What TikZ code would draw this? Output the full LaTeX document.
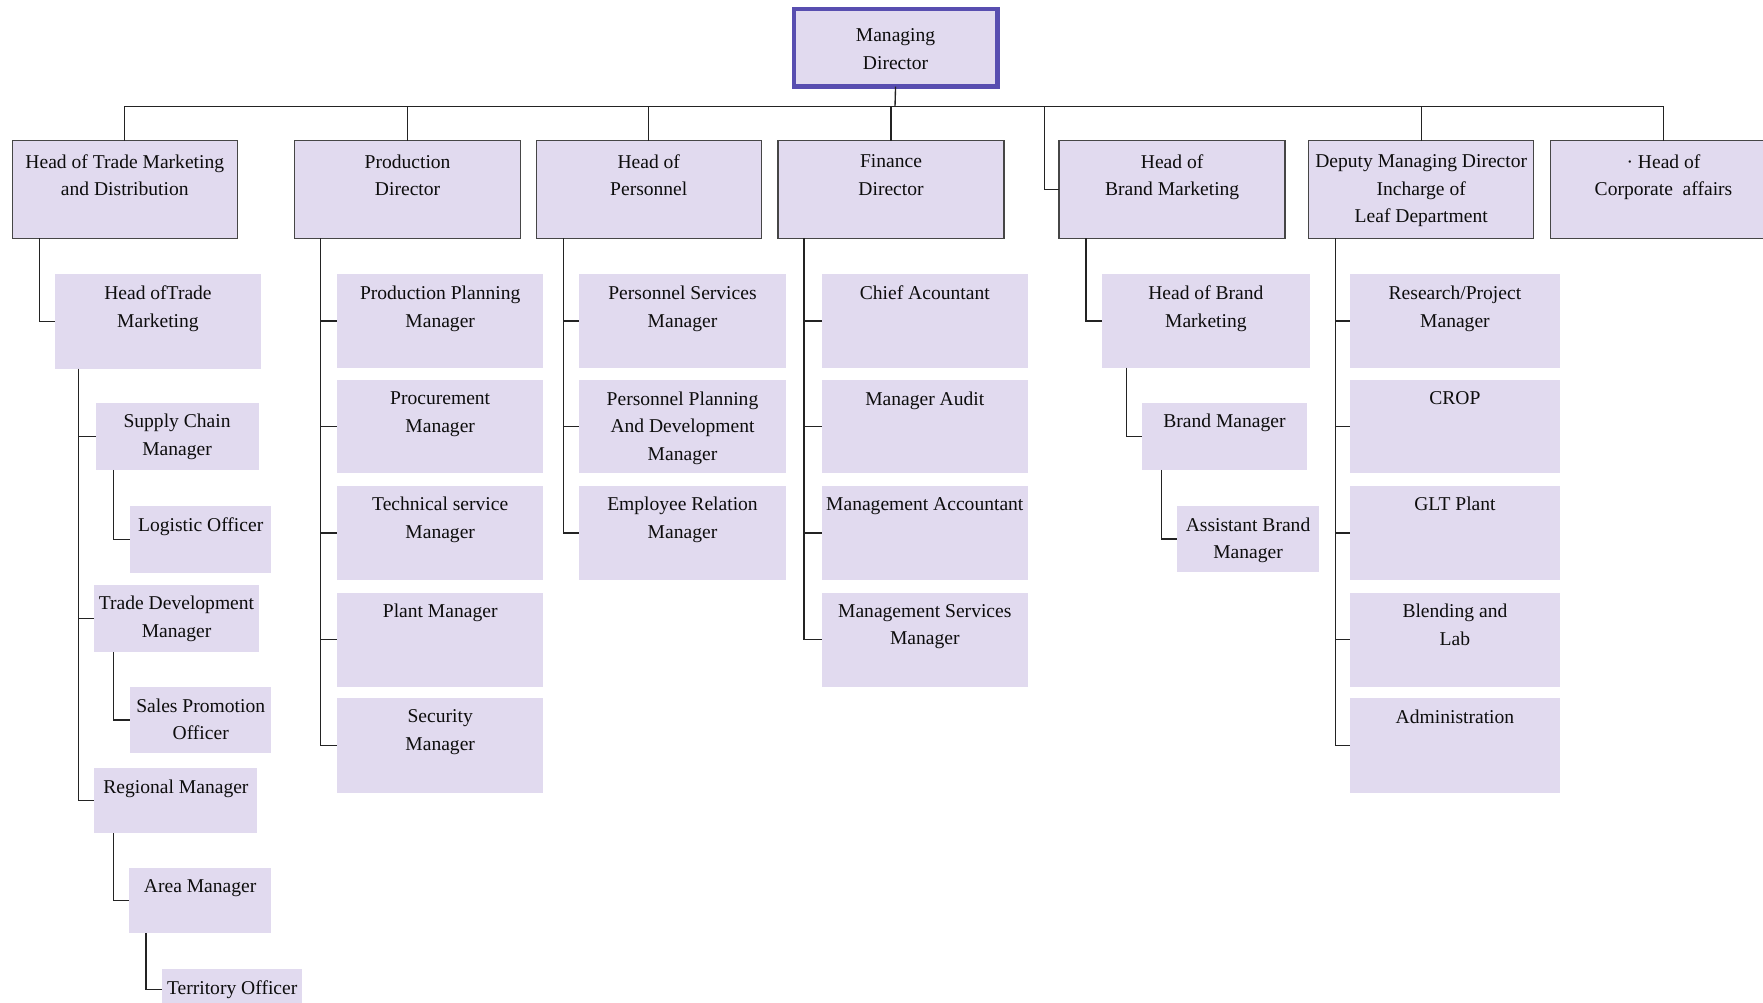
\documentclass[tikz,border=0pt]{standalone}
\usepackage{fontspec}
\setmainfont{Liberation Serif}
\usetikzlibrary{fit,calc}
\definecolor{boxfill}{RGB}{225,218,239}
\definecolor{mdborder}{RGB}{88,78,176}
\definecolor{edgecol}{RGB}{70,70,70}
\definecolor{conncol}{RGB}{35,35,35}
\newcommand\orgbox[8]{%
  \node[#2, fit={(#3,#4) (#5,#6)}] (#1) {};
  \node[txt] (#1-t) at ([yshift=#8]#1.north) {#7};
}
\tikzset{
  obox/.style={fill=boxfill, inner sep=0pt, outer sep=0pt},
  topbox/.style={obox, draw=edgecol, line width=0.6pt},
  subbox/.style={obox},
  mdbox/.style={obox, draw=mdborder, line width=2pt},
  txt/.style={font=\fontsize{8.7}{12.3}\selectfont, align=center, anchor=north, inner sep=0pt, text=black!95},
  conn/.style={draw=conncol, line width=0.6pt},
}
\begin{document}
\begin{tikzpicture}[x=0.5pt,y=-0.5pt]
\useasboundingbox (0,0) rectangle (1568,892);
\clip (0,0) rectangle (1568,892);
\fill[white] (0,0) rectangle (1568,892);

% top
\orgbox{md}{mdbox}{706}{8}{887}{77}{Managing\\Director}{-8.5pt}
\orgbox{htmd}{topbox}{11}{125}{211}{212}{Head of Trade Marketing\\and Distribution}{-6pt}
\orgbox{pd}{topbox}{262}{125}{463}{212}{Production\\Director}{-6pt}
\orgbox{hp}{topbox}{477}{125}{677}{212}{Head of\\Personnel}{-6pt}
\orgbox{fd}{topbox}{692}{125}{893}{212}{Finance\\Director}{-6pt}
\orgbox{hbm}{topbox}{942}{125}{1143}{212}{Head of\\Brand Marketing}{-6pt}
\orgbox{dmd}{topbox}{1164}{125}{1364}{212}{Deputy Managing Director\\Incharge of\\Leaf Department}{-6pt}
\orgbox{hca}{topbox}{1379}{125}{1580}{212}{·\ Head of\\Corporate\ \ affairs}{-6pt}

% column 1
\orgbox{hotm}{subbox}{49}{244}{232}{328}{Head ofTrade\\Marketing}{-5pt}
\orgbox{scm}{subbox}{85}{358}{230}{418}{Supply Chain\\Manager}{-5pt}
\orgbox{lo}{subbox}{116}{450}{241}{510}{Logistic Officer}{-5pt}
\orgbox{tdm}{subbox}{84}{520}{230}{580}{Trade Development\\Manager}{-5pt}
\orgbox{spo}{subbox}{116}{611}{241}{670}{Sales Promotion\\Officer}{-5pt}
\orgbox{rm}{subbox}{84}{683}{229}{741}{Regional Manager}{-5pt}
\orgbox{am}{subbox}{115}{772}{241}{830}{Area Manager}{-5pt}
\orgbox{to}{subbox}{144}{862}{269}{898}{Territory Officer}{-5pt}

% column 2
\orgbox{ppm}{subbox}{300}{244}{483}{327}{Production Planning\\Manager}{-5pt}
\orgbox{prm}{subbox}{300}{338}{483}{421}{Procurement\\Manager}{-5pt}
\orgbox{tsm}{subbox}{300}{432}{483}{516}{Technical service\\Manager}{-5pt}
\orgbox{plm}{subbox}{300}{527}{483}{611}{Plant Manager}{-5pt}
\orgbox{sem}{subbox}{300}{621}{483}{705}{Security\\Manager}{-5pt}

% column 3
\orgbox{psm}{subbox}{515}{244}{699}{327}{Personnel Services\\Manager}{-5pt}
\orgbox{pdm}{subbox}{515}{338}{699}{421}{Personnel Planning\\And Development\\Manager}{-5pt}
\orgbox{erm}{subbox}{515}{432}{699}{516}{Employee Relation\\Manager}{-5pt}

% column 4
\orgbox{ca}{subbox}{731}{244}{914}{327}{Chief Acountant}{-5pt}
\orgbox{mau}{subbox}{731}{338}{914}{421}{Manager Audit}{-5pt}
\orgbox{mac}{subbox}{731}{432}{914}{516}{Management Accountant}{-5pt}
\orgbox{msm}{subbox}{731}{527}{914}{611}{Management Services\\Manager}{-5pt}

% column 5
\orgbox{hobm}{subbox}{980}{244}{1165}{327}{Head of Brand\\Marketing}{-5pt}
\orgbox{bm}{subbox}{1016}{358}{1162}{418}{Brand Manager}{-5pt}
\orgbox{abm}{subbox}{1047}{450}{1173}{509}{Assistant Brand\\Manager}{-5pt}

% column 6
\orgbox{rpm}{subbox}{1201}{244}{1387}{327}{Research/Project\\Manager}{-5pt}
\orgbox{crop}{subbox}{1201}{338}{1387}{421}{CROP}{-5pt}
\orgbox{glt}{subbox}{1201}{432}{1387}{516}{GLT Plant}{-5pt}
\orgbox{bal}{subbox}{1201}{527}{1387}{611}{Blending and\\Lab}{-5pt}
\orgbox{adm}{subbox}{1201}{621}{1387}{705}{Administration}{-5pt}

% connectors: top level
\coordinate (bus) at (796,95);
\draw[conn] (md.south) -- (bus);
\foreach \c in {htmd,pd,hp,fd,dmd,hca} \draw[conn] (bus) -| (\c.north);
\draw[conn] (bus) -| ([xshift=-6.5pt]hbm.west) -- (hbm.west);

% column 1
\draw[conn] ([xshift=12pt]htmd.south west) |- (hotm.west);
\foreach \c in {scm,tdm,rm} \draw[conn] ([xshift=10.5pt]hotm.south west) |- (\c.west);
\draw[conn] ([xshift=8pt]scm.south west) |- (lo.west);
\draw[conn] ([xshift=8.5pt]tdm.south west) |- (spo.west);
\draw[conn] ([xshift=8.5pt]rm.south west) |- (am.west);
\draw[conn] ([xshift=7.5pt]am.south west) |- (to.west);

% column 2-4, 6
\foreach \c in {ppm,prm,tsm,plm,sem} \draw[conn] ([xshift=11.5pt]pd.south west) |- (\c.west);
\foreach \c in {psm,pdm,erm} \draw[conn] ([xshift=12pt]hp.south west) |- (\c.west);
\foreach \c in {ca,mau,mac,msm} \draw[conn] ([xshift=11.5pt]fd.south west) |- (\c.west);
\foreach \c in {rpm,crop,glt,bal,adm} \draw[conn] ([xshift=12pt]dmd.south west) |- (\c.west);

% column 5
\draw[conn] ([xshift=12pt]hbm.south west) |- (hobm.west);
\draw[conn] ([xshift=11pt]hobm.south west) |- (bm.west);
\draw[conn] ([xshift=8.5pt]bm.south west) |- (abm.west);
\end{tikzpicture}
\end{document}
